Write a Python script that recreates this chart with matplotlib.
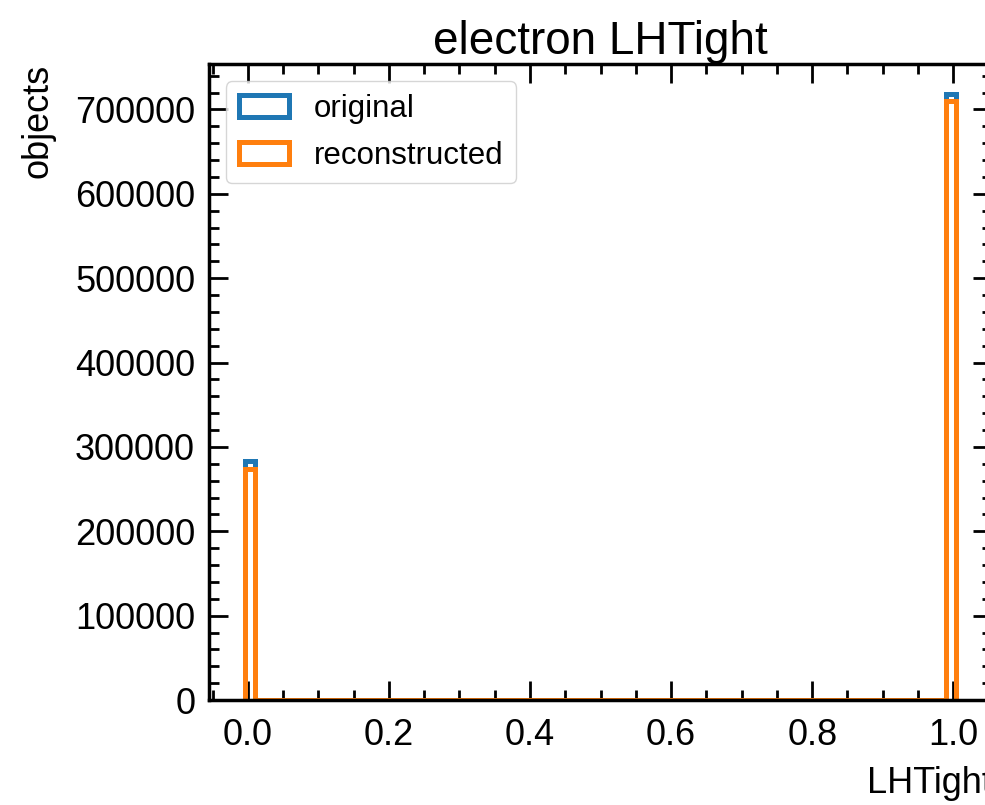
import numpy as np
import matplotlib
matplotlib.use("Agg")
import matplotlib.pyplot as plt
from matplotlib.ticker import MultipleLocator

# ---- data ----
bin_low = -0.0045
bin_high = 1.0045
n_bins = 68
values = [0.0, 1.0]                 # LHTight flag values
original_counts = [283700, 717900]
reconstructed_counts = [273800, 710000]
labels = ["original", "reconstructed"]
colors = ["#1f77b4", "#ff7f0e"]

plt.rcParams['font.family'] = ['Liberation Sans', 'DejaVu Sans']
plt.rcParams['font.size'] = 26

fig = plt.figure(figsize=(9.85, 8.05), dpi=100)
ax = fig.add_axes([0.2122, 0.1304, 0.795, 0.790])

edges = np.linspace(bin_low, bin_high, n_bins + 1)
ax.hist(values, bins=edges, weights=original_counts, histtype='step',
        color=colors[0], linewidth=3.6, label=labels[0])
ax.hist(values, bins=edges, weights=reconstructed_counts, histtype='step',
        color=colors[1], linewidth=3.6, label=labels[1])

ax.set_title("electron LHTight", fontsize=33)
ax.set_xlabel("LHTight", loc='right', fontsize=26, labelpad=9)
ax.set_ylabel("objects", loc='top', fontsize=26, labelpad=14)

ax.xaxis.set_major_locator(MultipleLocator(0.2))
ax.xaxis.set_minor_locator(MultipleLocator(0.05))
ax.yaxis.set_major_locator(MultipleLocator(100000))
ax.yaxis.set_minor_locator(MultipleLocator(20000))
ax.tick_params(which='both', direction='in', top=True, right=True, labelsize=26)
ax.tick_params(which='major', length=14, width=2)
ax.tick_params(which='minor', length=7, width=2)
ax.tick_params(axis='y', which='major', pad=10)
ax.tick_params(axis='x', which='major', pad=13)
for s in ax.spines.values():
    s.set_linewidth(2.5)

ax.legend(loc='upper left', fontsize=22.5, handlelength=1.6,
          labelspacing=0.55, borderaxespad=0.55)

fig.savefig("out.png", dpi=100)
